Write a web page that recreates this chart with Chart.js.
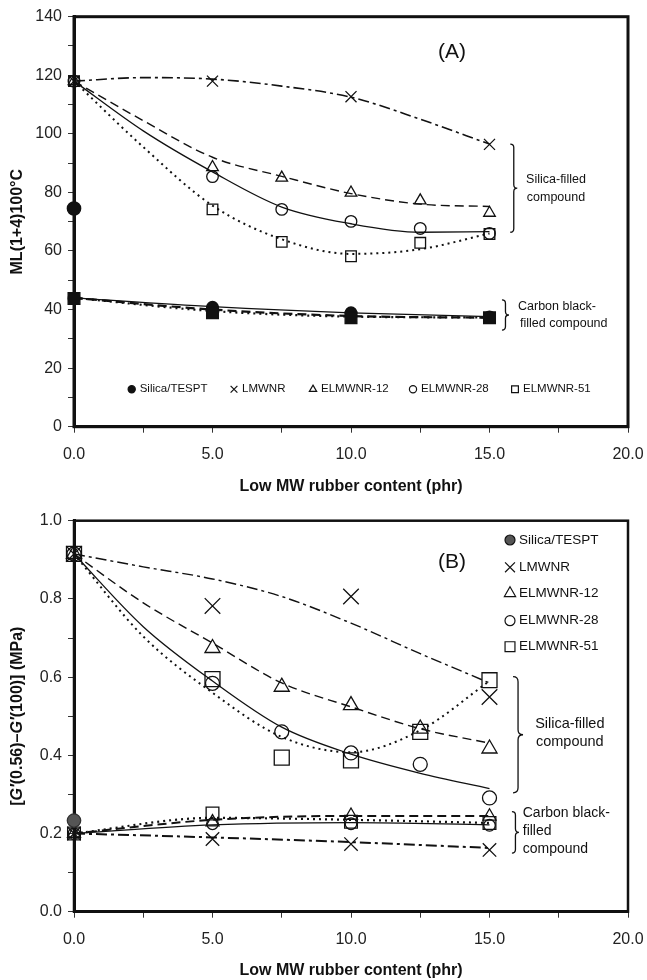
<!DOCTYPE html>
<html>
<head>
<meta charset="utf-8">
<script src="https://cdn.jsdelivr.net/npm/chart.js@4.4.1/dist/chart.umd.min.js"></script>
<style>
  body { margin: 0; background: #fff; }
  canvas { display: block; }
</style>
</head>
<body>
<canvas id="chart-a" width="647" height="496"></canvas>
<canvas id="chart-b" width="647" height="484"></canvas>
<script>
const FONT = "'Liberation Sans', Arial, sans-serif";

// ---------- data ----------
const seriesNames = ['Silica/TESPT', 'LMWNR', 'ELMWNR-12', 'ELMWNR-28', 'ELMWNR-51'];
const xAll = [0, 5, 7.5, 10, 12.5, 15];
const xFour = [0, 5, 10, 15];
const xFit = [0, 2.5, 5, 7.5, 10, 12.5, 15];
const xTespt = [0];

// (A) ML(1+4)100°C
const aTespt = [74.5];
const aLmwnr = [118, 118, 112.7, 96.4];
const aE12 = [118, 88.6, 85.0, 79.9, 77.2, 73.0];
const aE28 = [118, 85.4, 74.2, 70.1, 67.7, 66.0];
const aE51 = [118, 74.2, 63.1, 58.2, 62.8, 65.8];
const aLmwnrFit = [118, 119.2, 118.7, 116.3, 112.5, 105.0, 96.5];
const aE12Fit = [118, 104.5, 92.0, 85.5, 79.6, 76.0, 75.2];
const aE28Fit = [118, 101.0, 87.0, 75.0, 69.3, 66.4, 66.6];
const aE51Fit = [118, 95.5, 75.5, 64.0, 59.0, 60.6, 66.0];
// carbon black-filled (A)
const aCbCircle = [43.8, 40.8, 38.9, 37.5];
const aCbSquare = [43.8, 38.9, 37.2, 37.2];
const aCbSolid = [44.0, 41.0, 38.9, 37.6];
const aCbDash = [44.0, 40.0, 37.8, 37.2];
const aCbDot = [44.0, 39.5, 37.6, 37.3];

// (B) G'(0.56)-G'(100)
const bTespt = [0.233];
const bLmwnr = [0.915, 0.782, 0.806, 0.549];
const bE12 = [0.915, 0.674, 0.575, 0.528, 0.468, 0.417];
const bE28 = [0.915, 0.584, 0.460, 0.406, 0.377, 0.291];
const bE51 = [0.915, 0.595, 0.394, 0.387, 0.460, 0.592];
const bLmwnrFit = [0.915, 0.882, 0.851, 0.806, 0.738, 0.660, 0.585];
const bE12Fit = [0.915, 0.790, 0.687, 0.585, 0.524, 0.468, 0.431];
const bE28Fit = [0.915, 0.729, 0.590, 0.472, 0.403, 0.354, 0.315];
const bE51Fit = [0.915, 0.704, 0.560, 0.447, 0.408, 0.464, 0.590];
// carbon black-filled (B)
const bCbLmwnr = [0.200, 0.186, 0.173, 0.158];
const bCbE12 = [0.200, 0.229, 0.246, 0.244];
const bCbE28 = [0.200, 0.225, 0.225, 0.221];
const bCbE51 = [0.200, 0.251, 0.230, 0.227];
const bCbLmwnrFit = [0.200, 0.190, 0.178, 0.163];
const bCbE12Fit = [0.200, 0.235, 0.245, 0.245];
const bCbE28Fit = [0.200, 0.222, 0.228, 0.222];
const bCbE51Fit = [0.200, 0.240, 0.235, 0.227];

const xTitle = 'Low MW rubber content (phr)';

// ---------- helpers ----------
const pts = (xs, ys) => xs.map((x, i) => ({ x, y: ys[i] }));
const NONE = 'rgba(0,0,0,0)';
const DASHDOT = [11, 4, 3, 4];
const DASH = [9, 5];
const DOT = [2, 4];

function markers(label, xs, ys, style, r, fill, extra) {
  return Object.assign({
    label, data: pts(xs, ys), showLine: false,
    pointStyle: style, pointRadius: r, pointHoverRadius: r,
    pointBorderColor: '#111', pointBackgroundColor: fill || NONE,
    pointBorderWidth: 1.3, clip: false
  }, extra || {});
}

function fit(xs, ys, dash, width) {
  return {
    data: pts(xs, ys), showLine: true, pointRadius: 0, pointHoverRadius: 0,
    borderColor: '#111', borderWidth: width || 1.3, borderDash: dash || [],
    cubicInterpolationMode: 'monotone', fill: false, clip: false
  };
}

function drawMarker(ctx, style, x, y, r, fill) {
  ctx.beginPath();
  if (style === 'circle') {
    ctx.arc(x, y, r, 0, Math.PI * 2);
  } else if (style === 'rect') {
    const s = r * Math.SQRT1_2;
    ctx.rect(x - s, y - s, 2 * s, 2 * s);
  } else if (style === 'triangle') {
    ctx.moveTo(x, y - r);
    ctx.lineTo(x + r * 0.866, y + r * 0.5);
    ctx.lineTo(x - r * 0.866, y + r * 0.5);
    ctx.closePath();
  } else if (style === 'crossRot') {
    const d = r * Math.SQRT1_2;
    ctx.moveTo(x - d, y - d); ctx.lineTo(x + d, y + d);
    ctx.moveTo(x + d, y - d); ctx.lineTo(x - d, y + d);
  }
  if (fill && fill !== NONE && style !== 'crossRot') {
    ctx.fillStyle = fill;
    ctx.fill();
  }
  ctx.stroke();
}

function drawBrace(ctx, x, y1, y2, w) {
  const ym = (y1 + y2) / 2, h = w / 2;
  ctx.beginPath();
  ctx.moveTo(x, y1);
  ctx.quadraticCurveTo(x + h, y1, x + h, y1 + h);
  ctx.lineTo(x + h, ym - h);
  ctx.quadraticCurveTo(x + h, ym, x + w, ym);
  ctx.quadraticCurveTo(x + h, ym, x + h, ym + h);
  ctx.lineTo(x + h, y2 - h);
  ctx.quadraticCurveTo(x + h, y2, x, y2);
  ctx.stroke();
}

function drawYTitle(ctx, parts, cx, cy, size) {
  ctx.save();
  ctx.translate(cx, cy);
  ctx.rotate(-Math.PI / 2);
  ctx.textAlign = 'left';
  ctx.textBaseline = 'middle';
  ctx.fillStyle = '#111';
  const fontOf = p => `${p.i ? 'italic ' : ''}bold ${size}px ${FONT}`;
  let w = 0;
  parts.forEach(p => { ctx.font = fontOf(p); w += ctx.measureText(p.t).width; });
  let x = -w / 2;
  parts.forEach(p => {
    ctx.font = fontOf(p);
    ctx.fillText(p.t, x, 0);
    x += ctx.measureText(p.t).width;
  });
  ctx.restore();
}

// frame, notes, braces, legend, y title
function notesPlugin(cfg) {
  return {
    id: 'notes',
    beforeDatasetsDraw(chart) {
      const { ctx, chartArea: a } = chart;
      ctx.save();
      ctx.strokeStyle = '#111';
      ctx.lineWidth = cfg.frame;
      ctx.strokeRect(a.left, a.top, a.right - a.left, a.bottom - a.top);
      ctx.restore();
    },
    afterDraw(chart) {
      const { ctx, scales: { x, y } } = chart;
      ctx.save();
      ctx.fillStyle = '#111';
      ctx.strokeStyle = '#111';
      ctx.textBaseline = 'middle';
      cfg.texts.forEach(t => {
        ctx.font = `${t.size}px ${FONT}`;
        ctx.textAlign = t.align || 'center';
        ctx.fillText(t.text, x.getPixelForValue(t.x), y.getPixelForValue(t.y));
      });
      ctx.lineWidth = 1.3;
      cfg.braces.forEach(b => {
        drawBrace(ctx, x.getPixelForValue(b.x), y.getPixelForValue(b.y1), y.getPixelForValue(b.y2), b.w);
      });
      // legend
      const lg = cfg.legend;
      const items = chart.data.datasets.filter(d => d.inLegend);
      ctx.font = `${lg.size}px ${FONT}`;
      ctx.textAlign = 'left';
      items.forEach((d, i) => {
        const mx = lg.xs[i], my = lg.ys[i];
        ctx.lineWidth = 1.2;
        drawMarker(ctx, d.pointStyle, mx, my, lg.r[i], d.pointBackgroundColor);
        ctx.fillStyle = '#111';
        ctx.fillText(d.label, mx + lg.gap, my);
      });
      ctx.restore();
      drawYTitle(ctx, cfg.yTitle, 18, (chart.chartArea.top + chart.chartArea.bottom) / 2, 16);
    }
  };
}

function xScale(height) {
  return {
    type: 'linear', min: 0, max: 20,
    afterFit: s => { s.height = height; s.paddingLeft = 0; s.paddingRight = 0; },
    border: { display: true, color: '#111', width: 3 },
    grid: { display: true, drawOnChartArea: false, drawTicks: true, tickLength: 6, color: '#333', lineWidth: 1 },
    ticks: {
      stepSize: 2.5, autoSkip: false, maxRotation: 0, padding: 12, color: '#222',
      font: { size: 16, family: FONT },
      callback: v => (Math.abs(v / 5 - Math.round(v / 5)) < 1e-6 ? v.toFixed(1) : '')
    },
    title: { display: true, text: xTitle, color: '#111', padding: 0, font: { size: 16, weight: 'bold', family: FONT } }
  };
}

function yScale(min, max, step, labelStep, digits) {
  return {
    type: 'linear', min, max,
    afterFit: s => { s.width = 74; s.paddingTop = 0; s.paddingBottom = 0; },
    border: { display: true, color: '#111', width: 3 },
    grid: { display: true, drawOnChartArea: false, drawTicks: true, tickLength: 6, color: '#333', lineWidth: 1 },
    ticks: {
      stepSize: step, autoSkip: false, padding: 6, color: '#222',
      font: { size: 16, family: FONT },
      callback: v => (Math.abs(v / labelStep - Math.round(v / labelStep)) < 1e-6 ? v.toFixed(digits) : '')
    }
  };
}

const baseOptions = (padTop, xHeight, yOpts) => ({
  responsive: false, animation: false, events: [],
  layout: { padding: { top: padTop, right: 19, left: 0, bottom: 0 } },
  plugins: { legend: { display: false }, tooltip: { enabled: false } },
  scales: { x: xScale(xHeight), y: yOpts }
});

// ---------- (A) ----------
new Chart(document.getElementById('chart-a'), {
  type: 'scatter',
  data: {
    datasets: [
      markers(seriesNames[0], xTespt, aTespt, 'circle', 6.7, '#111', { inLegend: true }),
      markers(seriesNames[1], xFour, aLmwnr, 'crossRot', 7.8, null, { inLegend: true }),
      markers(seriesNames[2], xAll, aE12, 'triangle', 6.7, null, { inLegend: true }),
      markers(seriesNames[3], xAll, aE28, 'circle', 5.8, null, { inLegend: true }),
      markers(seriesNames[4], xAll, aE51, 'rect', 7.5, null, { inLegend: true }),
      fit(xFit, aLmwnrFit, DASHDOT, 1.6),
      fit(xFit, aE12Fit, DASH, 1.4),
      fit(xFit, aE28Fit, [], 1.3),
      fit(xFit, aE51Fit, DOT, 2),
      markers('CB ELMWNR-51', xFour, aCbSquare, 'rect', 8.3, '#111'),
      markers('CB ELMWNR-28', xFour, aCbCircle, 'circle', 5.8, '#111'),
      fit(xFour, aCbSolid, [], 1.3),
      fit(xFour, aCbDash, DASH, 2.2),
      fit(xFour, aCbDot, DOT, 2.2)
    ]
  },
  options: baseOptions(16.7, 69.3, yScale(0, 140, 10, 20, 0)),
  plugins: [notesPlugin({
    frame: 3,
    texts: [
      { text: '(A)', x: 13.65, y: 128, size: 21 },
      { text: 'Silica-filled', x: 17.4, y: 84.5, size: 12.5 },
      { text: 'compound', x: 17.4, y: 78.3, size: 12.5 },
      { text: 'Carbon black-', x: 16.03, y: 41.1, size: 12.5, align: 'left' },
      { text: 'filled compound', x: 16.1, y: 35.1, size: 12.5, align: 'left' }
    ],
    braces: [
      { x: 15.75, y1: 96.5, y2: 66.4, w: 7 },
      { x: 15.45, y1: 43.3, y2: 33.0, w: 7 }
    ],
    legend: { size: 11.5, gap: 8, xs: [131.7, 234, 313, 413, 515], ys: [389.3, 389.3, 389.3, 389.3, 389.3], r: [3.6, 4.8, 4.2, 3.6, 4.8] },
    yTitle: [{ t: 'ML(1+4)100°C' }]
  })]
});

// ---------- (B) ----------
new Chart(document.getElementById('chart-b'), {
  type: 'scatter',
  data: {
    datasets: [
      markers(seriesNames[0], xTespt, bTespt, 'circle', 6.7, '#555', { inLegend: true, pointBorderColor: '#333' }),
      markers(seriesNames[1], xFour, bLmwnr, 'crossRot', 11, null, { inLegend: true }),
      markers(seriesNames[2], xAll, bE12, 'triangle', 8.7, null, { inLegend: true }),
      markers(seriesNames[3], xAll, bE28, 'circle', 7, null, { inLegend: true }),
      markers(seriesNames[4], xAll, bE51, 'rect', 10.6, null, { inLegend: true }),
      fit(xFit, bLmwnrFit, DASHDOT, 1.4),
      fit(xFit, bE12Fit, DASH, 1.4),
      fit(xFit, bE28Fit, [], 1.3),
      fit(xFit, bE51Fit, DOT, 2),
      markers('CB LMWNR', xFour, bCbLmwnr, 'crossRot', 9.5),
      markers('CB ELMWNR-12', xFour, bCbE12, 'triangle', 7.5),
      markers('CB ELMWNR-28', xFour, bCbE28, 'circle', 5.8),
      markers('CB ELMWNR-51', xFour, bCbE51, 'rect', 9),
      fit(xFour, bCbLmwnrFit, DASHDOT, 2),
      fit(xFour, bCbE12Fit, DASH, 2),
      fit(xFour, bCbE28Fit, [], 1.3),
      fit(xFour, bCbE51Fit, DOT, 2.2)
    ]
  },
  options: baseOptions(24.7, 68.3, yScale(0, 1, 0.1, 0.2, 1)),
  plugins: [notesPlugin({
    frame: 2.5,
    texts: [
      { text: '(B)', x: 13.65, y: 0.894, size: 21 },
      { text: 'Silica-filled', x: 17.9, y: 0.480, size: 14.5 },
      { text: 'compound', x: 17.9, y: 0.434, size: 14.5 },
      { text: 'Carbon black-', x: 16.2, y: 0.253, size: 14, align: 'left' },
      { text: 'filled', x: 16.2, y: 0.205, size: 14, align: 'left' },
      { text: 'compound', x: 16.2, y: 0.160, size: 14, align: 'left' }
    ],
    braces: [
      { x: 15.85, y1: 0.601, y2: 0.304, w: 10 },
      { x: 15.81, y1: 0.256, y2: 0.150, w: 7 }
    ],
    legend: { size: 13.5, gap: 9, xs: [510, 510, 510, 510, 510], ys: [44, 71.3, 97.3, 124.7, 150.7], r: [5, 7, 6.5, 5, 7] },
    yTitle: [
      { t: '[' }, { t: 'G′', i: true }, { t: '(0.56)–' }, { t: 'G′', i: true }, { t: '(100)] (MPa)' }
    ]
  })]
});
</script>
</body>
</html>
